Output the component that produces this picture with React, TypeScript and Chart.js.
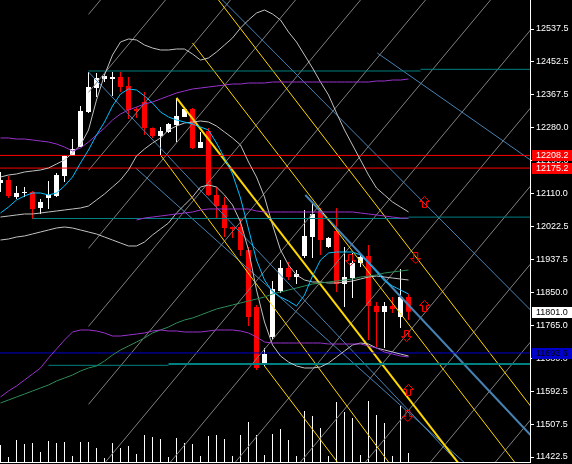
import React, { useEffect, useRef } from 'react';
import { Chart, registerables } from 'chart.js';

Chart.register(...registerables);

// ---------- price bars (one per bar index) ----------
const opens = [12136.3, 12144.1, 12099.9, 12110.3, 12112.9, 12071.2, 12097.2, 12102.5, 12154.6, 12206.7,
  12230.1, 12321.3, 12383.8, 12407.3, 12407.3, 12412.5, 12389.0, 12329.1, 12347.3, 12279.6,
  12258.8, 12269.2, 12287.4, 12308.3, 12329.1, 12227.5, 12271.8, 12105.1, 12079.0, 12021.7,
  12021.7, 11961.8, 11813.3, 11662.2, 11735.1, 11855.0, 11914.9, 11891.4, 11946.1, 11995.6,
  12063.4, 11969.6, 12011.3, 11873.2, 11888.8, 11927.9, 11946.1, 11815.9, 11800.3, 11815.9,
  11787.2, 11839.3];
const highs = [12165.0, 12154.6, 12128.5, 12125.9, 12115.5, 12094.6, 12141.5, 12162.4, 12209.3, 12250.9,
  12336.9, 12425.5, 12422.9, 12420.3, 12425.5, 12425.5, 12412.5, 12334.3, 12373.4, 12281.0,
  12282.2, 12292.6, 12357.8, 12334.3, 12331.7, 12269.2, 12279.6, 12125.9, 12099.9, 12023.0,
  12045.1, 11969.6, 11818.5, 11706.5, 11881.0, 11935.7, 11930.5, 11909.7, 12066.0, 12084.2,
  12071.2, 11995.6, 12071.2, 11969.6, 11954.0, 11948.8, 11974.8, 11826.3, 11826.3, 11839.3,
  11912.3, 11847.2];
const lows = [12112.9, 12097.2, 12094.6, 12099.9, 12042.5, 12055.6, 12068.6, 12099.9, 12138.9, 12206.7,
  12230.1, 12318.7, 12360.4, 12399.4, 12363.0, 12373.4, 12303.0, 12305.7, 12261.4, 12253.6,
  12209.3, 12266.6, 12243.1, 12308.3, 12224.9, 12227.5, 12103.0, 12045.1, 11995.6, 11993.0,
  11946.1, 11763.8, 11649.2, 11659.6, 11727.3, 11849.8, 11883.6, 11873.2, 11940.9, 11940.9,
  11948.8, 11967.0, 11852.4, 11813.3, 11836.7, 11917.5, 11727.3, 11709.1, 11706.5, 11797.7,
  11758.6, 11779.4];
const closes = [12144.1, 12102.5, 12110.3, 12112.9, 12068.6, 12086.8, 12105.1, 12157.2, 12206.7, 12224.9,
  12323.9, 12386.4, 12409.9, 12415.1, 12412.5, 12386.4, 12326.5, 12323.9, 12279.6, 12258.8,
  12271.8, 12290.0, 12310.9, 12329.1, 12227.5, 12243.1, 12105.1, 12076.4, 12019.1, 12016.5,
  11961.8, 11787.2, 11654.4, 11690.8, 11860.2, 11914.9, 11891.4, 11899.3, 11998.3, 12055.6,
  11987.8, 11993.0, 11873.2, 11891.4, 11927.9, 11943.5, 11815.9, 11800.3, 11815.9, 11808.1,
  11839.3, 11801.0];
const volumes = [1700, 500, 2200, 1800, 1900, 1000, 2100, 1900, 2000, 600,
  2000, 2000, 1400, 400, 1900, 1400, 1600, 800, 2700, 2500,
  2300, 500, 2400, 1900, 1800, 600, 2600, 2700, 2300, 600,
  2700, 4000, 2700, 700, 2800, 3300, 2200, 600, 5100, 4600,
  3400, 600, 6000, 5000, 4400, 700, 6100, 4700, 3900, 600,
  5600, 900];

// ---------- indicators ----------
const maFast = [12058.2, 12073.8, 12092.0, 12102.5, 12110.3, 12110.3, 12105.1, 12110.3, 12128.5, 12151.9,
  12188.4, 12222.3, 12261.4, 12295.2, 12336.9, 12368.2, 12381.2, 12378.6, 12363.0, 12344.7,
  12321.3, 12308.3, 12300.4, 12295.2, 12290.0, 12282.2, 12274.4, 12240.5, 12201.4, 12159.8,
  12097.2, 12016.5, 11935.7, 11883.6, 11852.4, 11839.3, 11828.9, 11815.9, 11844.5, 11894.0,
  11935.7, 11954.0, 11956.6, 11956.6, 11956.6, 11948.8, 11927.9, 11904.5, 11881.0, 11868.0,
  11857.6, 11847.2];
const envUpper = [12253.6, 12253.6, 12250.9, 12250.9, 12248.3, 12245.7, 12243.1, 12237.9, 12230.1, 12219.7,
  12227.5, 12243.1, 12261.4, 12279.6, 12300.4, 12316.1, 12326.5, 12334.3, 12342.1, 12347.3,
  12355.2, 12363.0, 12370.8, 12376.0, 12381.2, 12383.8, 12386.4, 12389.0, 12391.6, 12394.2,
  12394.2, 12396.8, 12396.8, 12396.8, 12399.4, 12399.4, 12399.4, 12399.4, 12399.4, 12399.4,
  12399.4, 12399.4, 12399.4, 12399.4, 12399.4, 12399.4, 12399.4, 12402.0, 12402.0, 12404.6,
  12404.6, 12407.3];
const envMiddle = [null, null, null, null, null, null, null, null, null, null,
  null, null, null, null, null, null, null, 12039.9, 12045.1, 12047.7,
  12050.3, 12053.0, 12055.6, 12058.2, 12060.8, 12066.0, 12068.6, 12068.6, 12068.6, 12068.6,
  12068.6, 12068.6, 12063.4, 12060.8, 12060.8, 12060.8, 12060.8, 12060.8, 12060.8, 12060.8,
  12060.8, 12060.8, 12060.8, 12060.8, 12060.8, 12058.2, 12055.6, 12053.0, 12050.3, 12047.7,
  12045.1, 12045.1];
const envLower = [11578.8, 11594.5, 11607.5, 11623.1, 11638.7, 11654.4, 11680.4, 11703.9, 11727.3, 11748.2,
  11753.4, 11753.4, 11750.8, 11745.6, 11737.7, 11737.7, 11740.3, 11742.9, 11745.6, 11750.8,
  11753.4, 11750.8, 11750.8, 11748.2, 11748.2, 11748.2, 11750.8, 11753.4, 11753.4, 11753.4,
  11750.8, 11745.6, 11735.1, 11722.1, 11719.5, 11719.5, 11719.5, 11719.5, 11719.5, 11719.5,
  11719.5, 11716.9, 11716.9, 11716.9, 11716.9, 11716.9, 11711.7, 11706.5, 11696.1, 11690.8,
  11685.6, 11683.0];
const maSlow = [11563.2, 11571.0, 11578.8, 11586.6, 11594.5, 11602.3, 11610.1, 11620.5, 11628.3, 11636.1,
  11646.6, 11654.4, 11659.6, 11672.6, 11688.2, 11701.3, 11711.7, 11722.1, 11732.5, 11745.6,
  11753.4, 11761.2, 11771.6, 11779.4, 11784.6, 11792.4, 11800.3, 11808.1, 11813.3, 11818.5,
  11823.7, 11828.9, 11834.1, 11839.3, 11847.2, 11852.4, 11857.6, 11862.8, 11868.0, 11873.2,
  11875.8, 11878.4, 11881.0, 11883.6, 11886.2, 11891.4, 11894.0, 11896.6, 11901.9, 11904.5,
  11907.1, 11909.7];
const bbUpper = [12151.9, 12157.2, 12159.8, 12165.0, 12167.6, 12170.2, 12175.4, 12185.8, 12196.2, 12214.5,
  12235.3, 12274.4, 12352.5, 12417.7, 12469.8, 12503.6, 12511.5, 12508.9, 12495.8, 12488.0,
  12482.8, 12482.8, 12485.4, 12485.4, 12472.4, 12456.7, 12462.0, 12477.6, 12495.8, 12514.1,
  12540.1, 12561.0, 12579.2, 12587.0, 12576.6, 12561.0, 12529.7, 12503.6, 12469.8, 12435.9,
  12399.4, 12365.6, 12318.7, 12274.4, 12235.3, 12196.2, 12157.2, 12123.3, 12105.1, 12086.8,
  12073.8, 12060.8];
const bbMiddle = [12047.7, 12050.3, 12053.0, 12055.6, 12055.6, 12058.2, 12060.8, 12063.4, 12066.0, 12068.6,
  12071.2, 12076.4, 12092.0, 12107.7, 12125.9, 12144.1, 12170.2, 12206.7, 12224.9, 12240.5,
  12253.6, 12274.4, 12284.8, 12292.6, 12295.2, 12297.8, 12295.2, 12284.8, 12269.2, 12253.6,
  12235.3, 12191.0, 12151.9, 12099.9, 12026.9, 11961.8, 11922.7, 11896.6, 11883.6, 11878.4,
  11878.4, 11875.8, 11875.8, 11878.4, 11881.0, 11886.2, 11891.4, 11894.0, 11891.4, 11888.8,
  11886.2, 11883.6];
const bbLower = [11987.8, 11990.4, 11995.6, 11998.3, 12003.5, 12008.7, 12013.9, 12019.1, 12021.7, 12019.1,
  12013.9, 12008.7, 12003.5, 11995.6, 11987.8, 11980.0, 11972.2, 11972.2, 11982.6, 12000.9,
  12016.5, 12032.1, 12058.2, 12079.0, 12099.9, 12125.9, 12131.1, 12125.9, 12105.1, 12079.0,
  12034.7, 11961.8, 11857.6, 11774.2, 11714.3, 11685.6, 11670.0, 11659.6, 11654.4, 11654.4,
  11657.0, 11667.4, 11683.0, 11698.7, 11714.3, 11719.5, 11716.9, 11706.5, 11701.3, 11696.1,
  11690.8, 11685.6];

// ---------- drawn objects: [startBar, startPrice, endBar, endPrice] ----------
const redLevels = [12208.2, 12175.2];
const blueLevel = 11693.6;
const tealSegments = [
  [11, 12428.1, 52.5, 12428.1], [52.5, 12432.5, 66.2, 12432.5],
  [4, 12043.8, 51, 12043.8], [51, 12047.5, 66.2, 12047.5],
  [6, 11661.4, 21, 11661.4],
];
const tealThick = [[21, 11664.5, 66.2, 11664.5]];
const goldLines = [
  [27.25, 12613.0, 66.25, 11555.4],
  [20, 12209.3, 48.5, 11409.5],
  [24, 12501.0, 64.25, 11409.5],
  [33, 11659.6, 42.1, 11409.5],
];
const goldThick = [[22, 12357.8, 58.1, 11383.4]];
const steelLines = [
  [27.75, 12613.0, 66.25, 11805.4],
  [16.9, 12175.4, 58.75, 11393.8],
  [11, 12425.5, 57, 11412.1],
  [47.1, 12475.0, 66.25, 12196.2],
];
const steelThick = [[38.1, 12105.1, 66.25, 11479.8]];
const gannStartBar = 11;
const gannEndBar = 66.25;
const gannStart = [12575.6, 12372.4, 12169.2, 11966.0, 11762.8, 11559.6, 11356.4, 11153.2, 10950.0, 10746.8, 10543.6, 10340.4, 10137.3];
const gannEnd = [13957.3, 13754.1, 13550.9, 13347.7, 13144.5, 12941.3, 12738.1, 12534.9, 12331.7, 12128.5, 11925.3, 11722.1, 11519.0];

const upArrows = [[53, 12086.8], [53, 11815.9], [51, 11597.1]];
const downArrows = [[51.9, 11940.9], [50.75, 11737.7], [43.75, 11935.7], [50.9, 11529.3]];

// ---------- axis ----------
const priceTicks = [12537.5, 12452.5, 12367.5, 12280.0, 12195.0, 12110.0, 12022.5, 11937.5, 11850.0, 11765.0, 11680.0, 11592.5, 11507.5, 11422.5];
const tagPrices = [12208.2, 12175.2, 11801.0, 11693.6];
const tagBg = ['#ff0000', '#ff0000', '#ffffff', '#0000cd'];
const tagFg = ['#ffffff', '#ffffff', '#000000', '#000000'];

const X_MIN = -0.0625;
const X_MAX = 66.1875;
const Y_MIN = 11409.5;
const Y_MAX = 12613.05;
const VOL_MAX = 46200;

const FONT = 'Liberation Sans, Arial, sans-serif';

function makeArrow(up: boolean): HTMLCanvasElement {
  const c = document.createElement('canvas');
  c.width = 11;
  c.height = 12;
  const g = c.getContext('2d')!;
  const pts = up
    ? [[5.5, 0.5], [10.5, 5.5], [7.5, 5.5], [7.5, 11.5], [3.5, 11.5], [3.5, 5.5], [0.5, 5.5]]
    : [[5.5, 11.5], [10.5, 6.5], [7.5, 6.5], [7.5, 0.5], [3.5, 0.5], [3.5, 6.5], [0.5, 6.5]];
  g.strokeStyle = '#ff0000';
  g.lineWidth = 1;
  g.beginPath();
  pts.forEach((p, i) => (i === 0 ? g.moveTo(p[0], p[1]) : g.lineTo(p[0], p[1])));
  g.closePath();
  g.stroke();
  return c;
}

function series(values: (number | null)[], color: string, order = 1, width = 1) {
  const data: { x: number; y: number }[] = [];
  values.forEach((v, i) => {
    if (v !== null) data.push({ x: i, y: v });
  });
  return { type: 'line', data, borderColor: color, borderWidth: width, pointRadius: 0, fill: false, tension: 0, order };
}

function segments(list: number[][], color: string, width = 1, order = 1) {
  return list.map((s) => ({
    type: 'line',
    data: [{ x: s[0], y: s[1] }, { x: s[2], y: s[3] }],
    borderColor: color,
    borderWidth: width,
    pointRadius: 0,
    fill: false,
    tension: 0,
    order,
  }));
}

const tagPlugin = {
  id: 'priceTags',
  afterDraw(chart: any) {
    const ctx = chart.ctx;
    const ys = chart.scales.y;
    ctx.save();
    ctx.font = `9px ${FONT}`;
    ctx.textBaseline = 'middle';
    ctx.textAlign = 'left';
    tagPrices.forEach((p, i) => {
      const y = Math.round(ys.getPixelForValue(p));
      ctx.fillStyle = tagBg[i];
      ctx.fillRect(532, y - 5, 40, 11);
      ctx.fillStyle = tagFg[i];
      ctx.fillText(p.toFixed(1), 536, y + 0.5);
    });
    ctx.restore();
  },
};

export default function App() {
  const ref = useRef<HTMLCanvasElement>(null);
  useEffect(() => {
    const idx = opens.map((_, i) => i);
    const colors = idx.map((i) => (closes[i] >= opens[i] ? '#ffffff' : '#ff0000'));
    const gannLines = gannStart.map((s, i) => [gannStartBar, s, gannEndBar, gannEnd[i]]);
    const fullWidth = (p: number) => [X_MIN, p, X_MAX, p];

    const datasets: any[] = [
      {
        type: 'line',
        data: upArrows.map((a) => ({ x: a[0], y: a[1] })),
        showLine: false,
        pointStyle: makeArrow(true),
        pointRadius: 6,
        order: 0,
      },
      {
        type: 'line',
        data: downArrows.map((a) => ({ x: a[0], y: a[1] })),
        showLine: false,
        pointStyle: makeArrow(false),
        pointRadius: 6,
        order: 0,
      },
      series(maFast, '#00bfff'),
      series(envUpper, '#9932cc'),
      series(envMiddle, '#9932cc'),
      series(envLower, '#9932cc'),
      series(maSlow, '#2e8b57'),
      series(bbUpper, '#c0c0c0'),
      series(bbMiddle, '#c0c0c0'),
      series(bbLower, '#c0c0c0'),
      ...segments(redLevels.map(fullWidth), '#ff0000'),
      ...segments([fullWidth(blueLevel)], '#0000cd'),
      ...segments(tealSegments, '#008080'),
      ...segments(tealThick, '#008080', 2),
      ...segments(goldLines, '#ffd700'),
      ...segments(goldThick, '#ffd700', 2),
      ...segments(steelLines, '#4682b4'),
      ...segments(steelThick, '#4682b4', 2),
      ...segments(gannLines, '#808080', 1, 2),
      {
        type: 'bar',
        data: idx.map((i) => ({ x: i, y: [lows[i], highs[i]] })),
        backgroundColor: colors,
        barThickness: 1,
        grouped: false,
        borderWidth: 0,
        inflateAmount: 0,
        order: 3,
      },
      {
        type: 'bar',
        data: idx.map((i) => ({ x: i, y: [opens[i], closes[i]] })),
        backgroundColor: colors,
        barThickness: 5,
        minBarLength: 1,
        grouped: false,
        borderWidth: 0,
        inflateAmount: 0,
        order: 3,
      },
      {
        type: 'bar',
        yAxisID: 'yv',
        data: idx.map((i) => ({ x: i, y: volumes[i] })),
        backgroundColor: '#ffffff',
        barThickness: 1,
        grouped: false,
        borderWidth: 0,
        inflateAmount: 0,
        order: 4,
      },
    ];

    const chart = new Chart(ref.current!, {
      type: 'bar',
      data: { datasets },
      options: {
        animation: false,
        responsive: false,
        devicePixelRatio: 1,
        layout: { padding: 0, autoPadding: false },
        events: [],
        plugins: { legend: { display: false }, tooltip: { enabled: false } },
        scales: {
          x: {
            type: 'linear',
            min: X_MIN,
            max: X_MAX,
            offset: false,
            ticks: { display: false },
            grid: { display: false, drawTicks: false },
            border: { display: true, color: '#ffffff' },
            afterFit: (s: any) => {
              s.height = 2;
              s.paddingLeft = 0;
              s.paddingRight = 0;
            },
          },
          y: {
            type: 'linear',
            position: 'right',
            min: Y_MIN,
            max: Y_MAX,
            afterBuildTicks: (s: any) => {
              s.ticks = priceTicks.map((v) => ({ value: v }));
            },
            afterFit: (s: any) => {
              s.width = 42;
              s.paddingTop = 0;
              s.paddingBottom = 0;
            },
            ticks: {
              color: '#ffffff',
              autoSkip: false,
              padding: 2,
              font: { family: FONT, size: 9 },
              callback: (v: any) => Number(v).toFixed(1),
            },
            grid: { drawOnChartArea: false, drawTicks: true, tickLength: 4, color: '#ffffff' },
            border: { display: true, color: '#ffffff' },
          },
          yv: {
            type: 'linear',
            display: false,
            min: 0,
            max: VOL_MAX,
          },
        },
      } as any,
      plugins: [tagPlugin],
    } as any);
    return () => chart.destroy();
  }, []);

  return (
    <div style={{ position: 'fixed', left: 0, top: 0, width: 572, height: 464, background: '#000000' }}>
      <canvas ref={ref} width={572} height={464} style={{ display: 'block', width: 572, height: 464 }} />
    </div>
  );
}
